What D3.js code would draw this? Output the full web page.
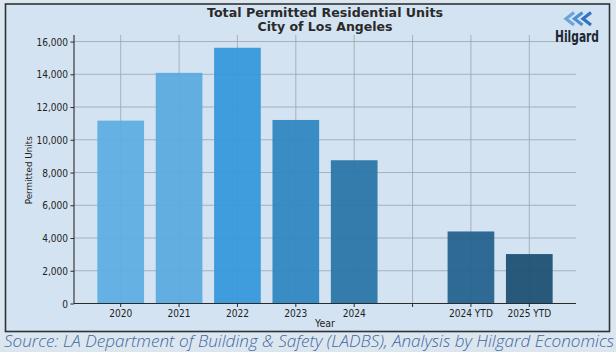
<!DOCTYPE html>
<html>
<head>
<meta charset="utf-8">
<script src="https://cdn.jsdelivr.net/npm/d3@7"></script>
<style>
  html, body { margin: 0; padding: 0; background: #dce6ef; }
  svg { display: block; }
</style>
</head>
<body>
<div id="chart"></div>
<script>
// chart data
const categories = ["2020", "2021", "2022", "2023", "2024", "", "2024 YTD", "2025 YTD"];
const units = [11170, 14090, 15620, 11210, 8750, null, 4400, 3020];
const barColors = ["#5dade2", "#5aaae0", "#3498db", "#2e86c1", "#2874a6", "none", "#21618c", "#1b4f72"];
const yTicks = [0, 2000, 4000, 6000, 8000, 10000, 12000, 14000, 16000];
const yMax = 16400;

const W = 616, H = 352;
const plotLeft = 74, plotRight = 576, plotTop = 35, plotBottom = 303.5;
const squash = 0.82;   // the source image is a bit narrow horizontally

const svg = d3.select("#chart")
    .append("svg")
    .attr("width", W)
    .attr("height", H);

// frame
svg.append("rect")
    .attr("x", 5.5).attr("y", 4)
    .attr("width", 604).attr("height", 327.5)
    .attr("fill", "#d4e3f1")
    .attr("stroke", "#2e3338")
    .attr("stroke-width", 1.6);

let x = d3.scaleBand()
    .domain(categories)
    .range([plotLeft, plotRight])
    .paddingInner(0.2)
    .paddingOuter(0.4);

let y = d3.scaleLinear()
    .domain([0, yMax])
    .range([plotBottom, plotTop]);

// grid
let grid = svg.append("g").attr("stroke", "#98a5b3").attr("stroke-width", 0.8);
grid.selectAll(".hg")
    .data(yTicks.slice(1))
    .enter()
    .append("line")
    .attr("x1", plotLeft).attr("x2", plotRight)
    .attr("y1", function(d) { return y(d); })
    .attr("y2", function(d) { return y(d); });
grid.selectAll(".vg")
    .data(categories)
    .enter()
    .append("line")
    .attr("x1", function(d) { return x(d) + x.bandwidth() / 2; })
    .attr("x2", function(d) { return x(d) + x.bandwidth() / 2; })
    .attr("y1", plotTop).attr("y2", plotBottom);

// bars
let barData = categories.map(function(c, i) { return {cat: c, value: units[i], color: barColors[i]}; })
    .filter(function(d) { return d.value != null; });
svg.selectAll(".bar")
    .data(barData)
    .enter()
    .append("rect")
    .attr("class", "bar")
    .attr("x", function(d) { return x(d.cat); })
    .attr("y", function(d) { return y(d.value); })
    .attr("width", x.bandwidth())
    .attr("height", function(d) { return y(0) - y(d.value); })
    .attr("fill", function(d) { return d.color; })
    .attr("fill-opacity", 0.93);

// axes
let xAxis = svg.append("g")
    .attr("transform", "translate(0," + plotBottom + ")")
    .call(d3.axisBottom(x).tickSizeOuter(0).tickSize(3.5).tickPadding(2));
let yAxis = svg.append("g")
    .attr("transform", "translate(" + plotLeft + ",0)")
    .call(d3.axisLeft(y).tickValues(yTicks).tickFormat(d3.format(",")).tickSizeOuter(0).tickSize(3.5).tickPadding(2.5));

[xAxis, yAxis].forEach(function(g) {
    g.select(".domain").attr("stroke", "#2b2b2b").attr("stroke-width", 1.1);
    g.selectAll(".tick line").attr("stroke", "#2b2b2b");
    g.selectAll("text")
        .attr("font-family", "DejaVu Sans")
        .attr("font-size", "11px")
        .attr("fill", "#1e1e1e");
});
yAxis.select(".domain").attr("d", "M0," + y(yMax) + "V" + plotBottom);
xAxis.select(".domain").attr("d", "M" + plotLeft + ",0H" + plotRight);

// narrow the tick labels like the source
svg.selectAll(".tick text").each(function() {
    let len = this.getComputedTextLength();
    if (len > 0) d3.select(this).attr("textLength", len * squash).attr("lengthAdjust", "spacingAndGlyphs");
});

// axis titles
svg.append("text")
    .text("Year")
    .attr("x", (plotLeft + plotRight) / 2)
    .attr("y", 327)
    .attr("text-anchor", "middle")
    .attr("font-family", "DejaVu Sans")
    .attr("font-size", "11px")
    .attr("fill", "#1e1e1e")
    .attr("textLength", 20)
    .attr("lengthAdjust", "spacingAndGlyphs");

svg.append("text")
    .text("Permitted Units")
    .attr("transform", "translate(32," + ((plotTop + plotBottom) / 2 + 1) + ") rotate(-90)")
    .attr("text-anchor", "middle")
    .attr("font-family", "DejaVu Sans")
    .attr("font-size", "8.8px")
    .attr("fill", "#1e1e1e");

// title
svg.append("text")
    .text("Total Permitted Residential Units")
    .attr("x", 325).attr("y", 16.5)
    .attr("text-anchor", "middle")
    .attr("font-family", "DejaVu Sans")
    .attr("font-weight", "bold")
    .attr("font-size", "12.5px")
    .attr("fill", "#2a2a2a")
    .attr("textLength", 236)
    .attr("lengthAdjust", "spacingAndGlyphs");
svg.append("text")
    .text("City of Los Angeles")
    .attr("x", 325).attr("y", 30.5)
    .attr("text-anchor", "middle")
    .attr("font-family", "DejaVu Sans")
    .attr("font-weight", "bold")
    .attr("font-size", "12.5px")
    .attr("fill", "#2a2a2a")
    .attr("textLength", 135)
    .attr("lengthAdjust", "spacingAndGlyphs");

// logo
let logo = svg.append("g");
let chevColors = ["#6aa6de", "#4d8fd3", "#2f72bf"];
chevColors.forEach(function(c, i) {
    let cx = 566 + i * 8.5;
    logo.append("path")
        .attr("d", "M" + (cx + 8) + ",12.5L" + cx + ",18.8L" + (cx + 8) + ",25")
        .attr("fill", "none")
        .attr("stroke", c)
        .attr("stroke-width", 3.2);
});
logo.append("text")
    .text("Hilgard")
    .attr("x", 577).attr("y", 42)
    .attr("text-anchor", "middle")
    .attr("font-family", "DejaVu Sans")
    .attr("font-weight", "bold")
    .attr("font-size", "15px")
    .attr("fill", "#1c2733")
    .attr("textLength", 44)
    .attr("lengthAdjust", "spacingAndGlyphs");

// source line
svg.append("text")
    .text("Source: LA Department of Building & Safety (LADBS), Analysis by Hilgard Economics")
    .attr("x", 4).attr("y", 347)
    .attr("font-family", "Open Sans")
    .attr("font-style", "italic")
    .attr("font-weight", 300)
    .attr("font-size", "17px")
    .attr("fill", "#3f68a3")
    .attr("textLength", 610)
    .attr("lengthAdjust", "spacingAndGlyphs");
</script>
</body>
</html>
